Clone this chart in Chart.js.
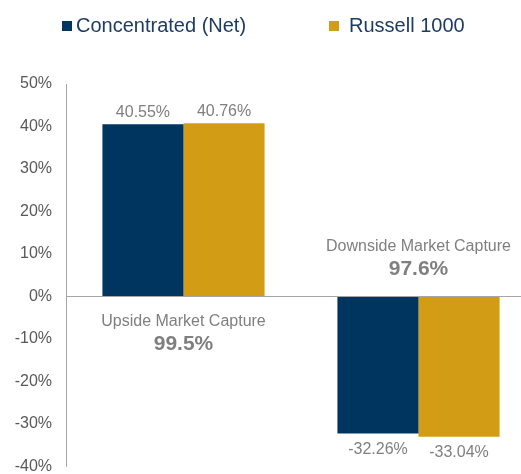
<!DOCTYPE html>
<html>
<head>
<meta charset="utf-8">
<script src="https://cdn.jsdelivr.net/npm/chart.js@4"></script>
<style>
  html, body { margin: 0; padding: 0; background: #fff; overflow: hidden; }
  .wrap { width: 521px; height: 474px; overflow: hidden; position: relative; }
  canvas { display: block; }
</style>
</head>
<body>
<div class="wrap"><canvas id="chart" width="540" height="490"></canvas></div>
<script>
const categories = ['Upside', 'Downside']
const seriesNames = ['Concentrated (Net)', 'Russell 1000']
const concentrated = [40.55, -32.26]
const russell = [40.76, -33.04]
const captureTitles = ['Upside Market Capture', 'Downside Market Capture']
const captureValues = ['99.5%', '97.6%']
const yTicks = { min: -40, max: 50, step: 10 }

const NAVY = '#00355F'
const GOLD = '#D29D14'
const GRAY = '#7F7F7F'
const FONT = 'Liberation Sans, Arial, sans-serif'

// legend drawn by hand so the spacing can match the original
const legendPlugin = {
    id: 'legendBoxes',
    afterDraw(chart) {
        const ctx = chart.ctx
        const items = [{ x: 62, gap: 4 }, { x: 329, gap: 10 }]
        ctx.save()
        ctx.font = '20px ' + FONT
        ctx.textBaseline = 'middle'
        ctx.textAlign = 'left'
        chart.data.datasets.forEach((ds, i) => {
            const it = items[i]
            ctx.fillStyle = ds.backgroundColor
            ctx.fillRect(it.x, 21, 10, 10)
            ctx.fillStyle = '#1C3C63'
            ctx.fillText(ds.label, it.x + 10 + it.gap, 26)
        })
        ctx.restore()
    }
}

const valueLabels = {
    id: 'valueLabels',
    afterDatasetsDraw(chart) {
        const ctx = chart.ctx
        ctx.save()
        ctx.font = '16px ' + FONT
        ctx.fillStyle = GRAY
        ctx.textAlign = 'center'
        ctx.textBaseline = 'middle'
        chart.data.datasets.forEach((ds, di) => {
            chart.getDatasetMeta(di).data.forEach((bar, i) => {
                const v = ds.data[i]
                const y = v >= 0 ? bar.y - 12 : bar.y + 16
                ctx.fillText(v.toFixed(2) + '%', bar.x, y)
            })
        })
        // capture ratio notes
        const zero = chart.scales.y.getPixelForValue(0)
        categories.forEach((c, i) => {
            const x = chart.scales.x.getPixelForValue(i)
            const up = concentrated[i] >= 0
            const y1 = up ? zero + 25 : zero - 50
            ctx.font = '16px ' + FONT
            ctx.fillText(captureTitles[i], x, y1)
            ctx.font = 'bold 21px ' + FONT
            ctx.fillText(captureValues[i], x, y1 + 23)
        })
        ctx.restore()
    }
}

new Chart(document.getElementById('chart'), {
    type: 'bar',
    data: {
        labels: categories,
        datasets: [
            { label: seriesNames[0], data: concentrated, backgroundColor: NAVY },
            { label: seriesNames[1], data: russell, backgroundColor: GOLD }
        ]
    },
    options: {
        responsive: false,
        animation: false,
        categoryPercentage: 0.69,
        barPercentage: 1.0,
        layout: { padding: { top: 84, bottom: 20, right: 4, left: 0 } },
        plugins: {
            legend: { display: false },
            tooltip: { enabled: false }
        },
        scales: {
            x: { display: false },
            y: {
                min: yTicks.min,
                max: yTicks.max,
                afterFit(scale) { scale.width = 66 },
                border: { display: true, color: '#A6A6A6', width: 1 },
                grid: {
                    drawTicks: false,
                    color: (c) => c.tick && c.tick.value === 0 ? '#A6A6A6' : 'rgba(0,0,0,0)',
                    lineWidth: 1
                },
                ticks: {
                    stepSize: yTicks.step,
                    padding: 14,
                    color: '#595959',
                    font: { family: FONT, size: 16 },
                    callback: (v) => v + '%'
                }
            }
        }
    },
    plugins: [legendPlugin, valueLabels]
})
</script>
</body>
</html>
